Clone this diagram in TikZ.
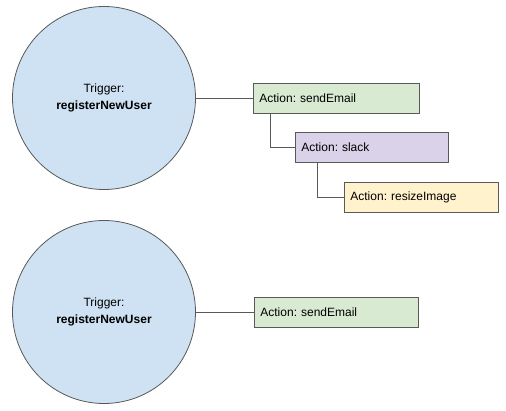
\documentclass[tikz,border=0pt]{standalone}
\usepackage{fontspec}
\setmainfont{Liberation Sans}
\frenchspacing
\definecolor{trig}{HTML}{CFE2F3}
\definecolor{green1}{HTML}{D9EAD3}
\definecolor{purp}{HTML}{D9D2E9}
\definecolor{yell}{HTML}{FFF2CC}
\definecolor{edge}{HTML}{595959}
\begin{document}
\begin{tikzpicture}[x=1pt,y=-1pt,
  trigger/.style={circle,draw=edge,line width=0.8pt,fill=trig,minimum size=183pt,inner sep=0pt,align=center,font=\fontsize{12}{16.5}\selectfont},
  action/.style={rectangle,draw=edge,line width=0.8pt,minimum height=30pt,inner sep=0pt,text width=#1,font=\fontsize{12}{14}\selectfont},
  conn/.style={draw=edge,line width=0.8pt}]
\useasboundingbox (0,0) rectangle (506,411);
\node[trigger] (t1) at (104,98) {Trigger:\\\textbf{registerNewUser}};
\node[trigger] (t2) at (104,312) {Trigger:\\\textbf{registerNewUser}};
\node[action=154pt,fill=green1,minimum width=166pt,anchor=north west] (e1) at (253,83) {Action: sendEmail};
\node[action=141pt,fill=purp,minimum width=153pt,anchor=north west] (s1) at (295,132) {Action: slack};
\node[action=142pt,fill=yell,minimum width=154pt,anchor=north west] (r1) at (344,182) {Action: resizeImage};
\node[action=152pt,fill=green1,minimum width=164pt,anchor=north west] (e2) at (254,297) {Action: sendEmail};
\draw[conn] (t1.east) -- (t1.east -| e1.west);
\draw[conn] (t2.east) -- (t2.east -| e2.west);
\draw[conn] ([xshift=17pt]e1.south west) |- (s1.west);
\draw[conn] ([xshift=22pt]s1.south west) |- (r1.west);
\end{tikzpicture}
\end{document}
